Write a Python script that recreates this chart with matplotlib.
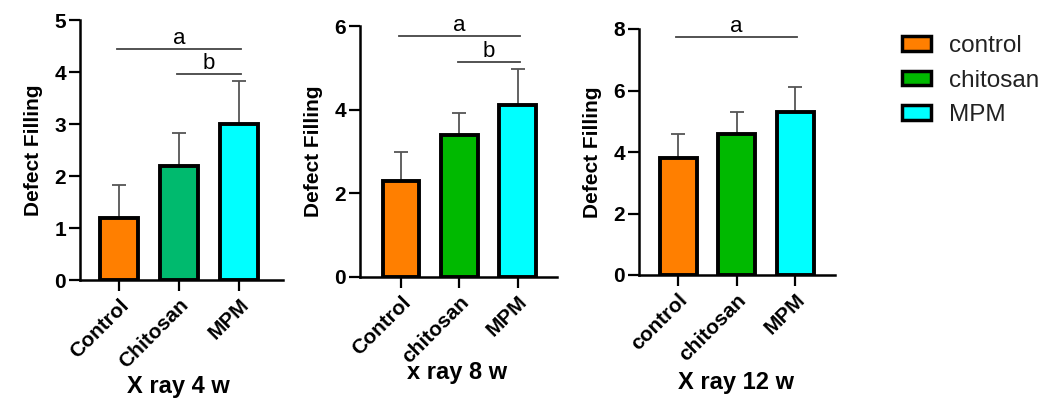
import matplotlib.pyplot as plt
from matplotlib.patches import Patch

plt.rcParams['font.family'] = ['Liberation Sans', 'DejaVu Sans']

# data
groups_4w = ["Control", "Chitosan", "MPM"]
groups_8w = ["Control", "chitosan", "MPM"]
groups_12w = ["control", "chitosan", "MPM"]

mean_4w = [1.2, 2.2, 3.0]
sd_4w = [0.63, 0.63, 0.82]
mean_8w = [2.3, 3.4, 4.1]
sd_8w = [0.7, 0.53, 0.88]
mean_12w = [3.8, 4.6, 5.3]
sd_12w = [0.8, 0.7, 0.82]

titles = ["X ray 4 w", "x ray 8 w", "X ray 12 w"]
ymax = [5, 6, 8]
ysteps = [1, 2, 2]

# significance bars: (from group, to group, height, letter)
sig_4w = [(0, 2, 4.45, "a"), (1, 2, 3.97, "b")]
sig_8w = [(0, 2, 5.75, "a"), (1, 2, 5.15, "b")]
sig_12w = [(0, 2, 7.75, "a")]

legend_labels = ["control", "chitosan", "MPM"]

orange = "#FF7F00"
cyan = "#00FFFF"
colors_4w = [orange, "#00BA6E", cyan]
colors_rest = [orange, "#00B900", cyan]

W, H = 1053, 403
fig = plt.figure(figsize=(W / 100, H / 100), dpi=100)

# axes boxes in pixels: left, right, top, bottom, xlim
boxes = [
    (80, 283, 20, 280, (-0.65, 2.73)),
    (360, 557, 26, 277, (-0.70, 2.67)),
    (639, 835, 29, 275, (-0.67, 2.68)),
]
# title positions (pixels: x centre, y centre)
title_pos = [(178, 387), (457, 373), (736, 383)]

panels = [
    (groups_4w, mean_4w, sd_4w, colors_4w, sig_4w),
    (groups_8w, mean_8w, sd_8w, colors_rest, sig_8w),
    (groups_12w, mean_12w, sd_12w, colors_rest, sig_12w),
]

for i, (box, panel) in enumerate(zip(boxes, panels)):
    l, r, t, b, xl = box
    groups, mean, sd, cols, sig = panel
    ax = fig.add_axes([l / W, 1 - b / H, (r - l) / W, (b - t) / H])
    x = list(range(len(groups)))
    ax.errorbar(x, mean, yerr=[[0] * len(sd), sd], fmt="none",
                ecolor="#555555", elinewidth=1.3, capsize=5, capthick=1.3, zorder=1)
    ax.bar(x, mean, width=0.63, color=cols, edgecolor="black", linewidth=2.8, zorder=2)
    for g0, g1, h, letter in sig:
        ax.plot([g0 - 0.03, g1 + 0.03], [h, h], color="#444444", lw=1.3, clip_on=False)
        ax.text((g0 + g1) / 2, h, letter, ha="center", va="bottom", fontsize=16)
    ax.set_xlim(*xl)
    ax.set_ylim(0, ymax[i])
    ax.set_yticks(range(0, ymax[i] + 1, ysteps[i]))
    ax.set_xticks(x)
    ax.set_xticklabels(groups, rotation=45, ha="right", rotation_mode="anchor",
                       fontsize=15, fontweight="bold")
    for lab in ax.get_yticklabels():
        lab.set_fontweight("bold")
        lab.set_fontsize(15)
    ax.tick_params(axis="y", direction="out", length=8, width=1.6, pad=2)
    ax.tick_params(axis="x", direction="out", length=8, width=1.6, pad=3)
    for s in ["top", "right"]:
        ax.spines[s].set_visible(False)
    for s in ["left", "bottom"]:
        ax.spines[s].set_linewidth(1.8)
    ax.set_ylabel("Defect Filling", fontsize=15, fontweight="bold", labelpad=8)
    tx, ty = title_pos[i]
    fig.text(tx / W, 1 - ty / H, titles[i], ha="center", va="center",
             fontsize=17, fontweight="bold")

handles = [Patch(facecolor=c, edgecolor="black", linewidth=2.5) for c in colors_rest]
fig.legend(handles, legend_labels, loc="upper left", bbox_to_anchor=(902 / W, 1 - 35 / H),
           frameon=False, fontsize=17.5, handlelength=1.2, handleheight=0.55,
           labelspacing=0.52, handletextpad=0.75, borderpad=0, borderaxespad=0,
           labelcolor="#222222")

fig.savefig("out.png", dpi=100)
